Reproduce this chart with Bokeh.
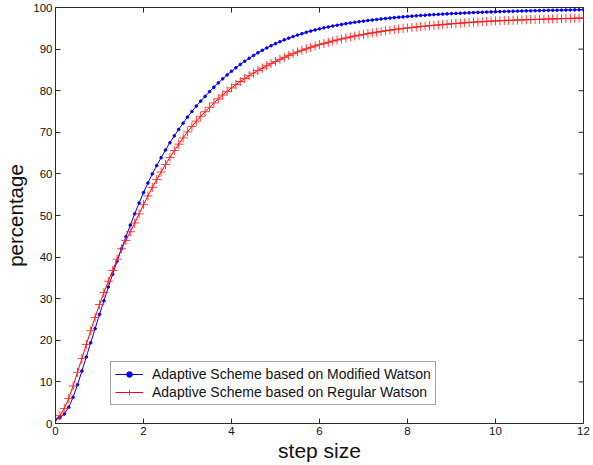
from bokeh.plotting import figure
from bokeh.models import Range1d, FixedTicker, Legend, LegendItem
from bokeh.embed import file_html
from bokeh.resources import INLINE

# step size samples
step = [
    0.0, 0.1, 0.2, 0.3, 0.4, 0.5, 0.6, 0.7, 0.8, 0.9,
    1.0, 1.1, 1.2, 1.3, 1.4, 1.5, 1.6, 1.7, 1.8, 1.9,
    2.0, 2.1, 2.2, 2.3, 2.4, 2.5, 2.6, 2.7, 2.8, 2.9,
    3.0, 3.1, 3.2, 3.3, 3.4, 3.5, 3.6, 3.7, 3.8, 3.9,
    4.0, 4.1, 4.2, 4.3, 4.4, 4.5, 4.6, 4.7, 4.8, 4.9,
    5.0, 5.1, 5.2, 5.3, 5.4, 5.5, 5.6, 5.7, 5.8, 5.9,
    6.0, 6.1, 6.2, 6.3, 6.4, 6.5, 6.6, 6.7, 6.8, 6.9,
    7.0, 7.1, 7.2, 7.3, 7.4, 7.5, 7.6, 7.7, 7.8, 7.9,
    8.0, 8.1, 8.2, 8.3, 8.4, 8.5, 8.6, 8.7, 8.8, 8.9,
    9.0, 9.1, 9.2, 9.3, 9.4, 9.5, 9.6, 9.7, 9.8, 9.9,
    10.0, 10.1, 10.2, 10.3, 10.4, 10.5, 10.6, 10.7, 10.8, 10.9,
    11.0, 11.1, 11.2, 11.3, 11.4, 11.5, 11.6, 11.7, 11.8, 11.9,
    12.0,
]

# percentage, adaptive scheme based on the modified Watson model
modified_watson = [
    1.0, 1.4, 2.3, 3.9, 6.3, 9.3, 12.6, 16.0, 19.4, 22.8,
    26.2, 29.5, 32.8, 35.9, 39.0, 42.0, 44.9, 47.7, 50.4, 53.0,
    55.5, 57.8, 60.0, 62.0, 63.9, 65.75, 67.5, 69.15, 70.7, 72.2,
    73.65, 75.0, 76.3, 77.5, 78.65, 79.77, 80.85, 81.88, 82.86, 83.79,
    84.67, 85.51, 86.31, 87.07, 87.79, 88.47, 89.11, 89.71, 90.28, 90.81,
    91.31, 91.78, 92.22, 92.63, 93.01, 93.37, 93.71, 94.03, 94.33, 94.61,
    94.87, 95.11, 95.33, 95.54, 95.74, 95.93, 96.11, 96.28, 96.44, 96.59,
    96.73, 96.87, 97.0, 97.12, 97.24, 97.35, 97.46, 97.56, 97.66, 97.75,
    97.84, 97.92, 98.0, 98.08, 98.15, 98.22, 98.29, 98.35, 98.41, 98.47,
    98.53, 98.58, 98.63, 98.68, 98.73, 98.78, 98.82, 98.86, 98.9, 98.94,
    98.98, 99.01, 99.04, 99.07, 99.1, 99.13, 99.16, 99.19, 99.21, 99.24,
    99.26, 99.29, 99.31, 99.33, 99.35, 99.37, 99.39, 99.41, 99.43, 99.45,
    99.47,
]

# percentage, adaptive scheme based on the regular Watson model
regular_watson = [
    1.1, 1.9, 3.6, 6.0, 9.0, 12.3, 15.6, 19.0, 22.3, 25.5,
    28.6, 31.5, 34.2, 36.8, 39.5, 42.0, 44.0, 46.1, 48.2, 50.4,
    52.6, 54.7, 56.75, 58.65, 60.45, 62.25, 63.95, 65.6, 67.15, 68.65,
    70.1, 71.42, 72.68, 73.85, 74.95, 76.02, 77.05, 78.03, 78.96, 79.84,
    80.67, 81.46, 82.21, 82.92, 83.59, 84.24, 84.85, 85.43, 85.98, 86.51,
    87.03, 87.53, 88.02, 88.48, 88.91, 89.32, 89.71, 90.08, 90.43, 90.76,
    91.07, 91.37, 91.65, 91.93, 92.19, 92.44, 92.68, 92.91, 93.14, 93.34,
    93.53, 93.72, 93.9, 94.07, 94.24, 94.4, 94.56, 94.7, 94.84, 94.97,
    95.09, 95.2, 95.31, 95.42, 95.52, 95.62, 95.72, 95.81, 95.9, 95.99,
    96.08, 96.16, 96.24, 96.32, 96.4, 96.48, 96.54, 96.6, 96.66, 96.72,
    96.78, 96.82, 96.86, 96.9, 96.94, 96.98, 97.02, 97.06, 97.09, 97.13,
    97.16, 97.2, 97.23, 97.26, 97.29, 97.32, 97.35, 97.38, 97.41, 97.44,
    97.47,
]

series_labels = [
    "Adaptive Scheme based on Modified Watson",
    "Adaptive Scheme based on Regular Watson",
]
x_ticks = [0, 2, 4, 6, 8, 10, 12]
y_ticks = [0, 10, 20, 30, 40, 50, 60, 70, 80, 90, 100]

FONT = "Liberation Sans"
AXIS_COLOR = "#2b2b2b"
X_MIN, X_MAX = 0, 12
Y_MIN, Y_MAX = 0, 100

p = figure(
    frame_width=528, frame_height=416,
    x_range=Range1d(X_MIN, X_MAX), y_range=Range1d(Y_MIN, Y_MAX),
    output_backend="svg", toolbar_location=None,
    min_border_left=55, min_border_right=10,
    min_border_top=7, min_border_bottom=42,
    background_fill_color="white", border_fill_color="white",
)
p.grid.visible = False
p.outline_line_color = AXIS_COLOR
p.outline_line_width = 1

for ax, ticks in ((p.xaxis[0], x_ticks), (p.yaxis[0], y_ticks)):
    ax.ticker = FixedTicker(ticks=ticks)
    ax.major_tick_in = 5
    ax.major_tick_out = 0
    ax.minor_tick_in = 0
    ax.minor_tick_out = 0
    ax.axis_line_color = AXIS_COLOR
    ax.major_tick_line_color = AXIS_COLOR
    ax.major_label_text_font = FONT
    ax.major_label_text_font_size = "11.5px"
    ax.major_label_text_color = "#111111"
    ax.major_label_standoff = 3
    ax.axis_label_text_font = FONT
    ax.axis_label_text_font_style = "normal"
    ax.axis_label_text_color = "#111111"

p.xaxis[0].axis_label = "step size"
p.xaxis[0].axis_label_text_font_size = "21px"
p.xaxis[0].axis_label_standoff = 1
p.yaxis[0].axis_label = "percentage"
p.yaxis[0].axis_label_text_font_size = "20.5px"
p.yaxis[0].axis_label_standoff = 3

# inward tick marks along the top and right edges of the box
p.scatter(x_ticks, [Y_MAX] * len(x_ticks), marker="dash", angle=1.5708,
          size=10, line_color=AXIS_COLOR, line_width=1)
p.scatter([X_MAX] * len(y_ticks), y_ticks, marker="dash",
          size=10, line_color=AXIS_COLOR, line_width=1)

blue_line = p.line(step, modified_watson, line_color="#0000ff", line_width=1)
blue_pts = p.scatter(step, modified_watson, marker="circle", size=2.6,
                     fill_color="#0000ff", line_color="#0000ff")
red_line = p.line(step, regular_watson, line_color="#ff0000", line_width=1)
red_pts = p.scatter(step, regular_watson, marker="cross", size=9,
                    line_color="#ff2020", line_alpha=0.85, line_width=1)

legend = Legend(
    items=[
        LegendItem(label=series_labels[0], renderers=[blue_line, blue_pts]),
        LegendItem(label=series_labels[1], renderers=[red_line, red_pts]),
    ],
    location=(55, 18),
    label_text_font=FONT,
    label_text_font_size="14px",
    label_text_color="#111111",
    glyph_width=28, glyph_height=14,
    label_height=14, label_standoff=9,
    spacing=2, padding=4, margin=0,
    border_line_color="#444444", border_line_width=1,
    background_fill_color="white", background_fill_alpha=1,
)
p.add_layout(legend)

open("out.html", "w").write(file_html(p, INLINE))
